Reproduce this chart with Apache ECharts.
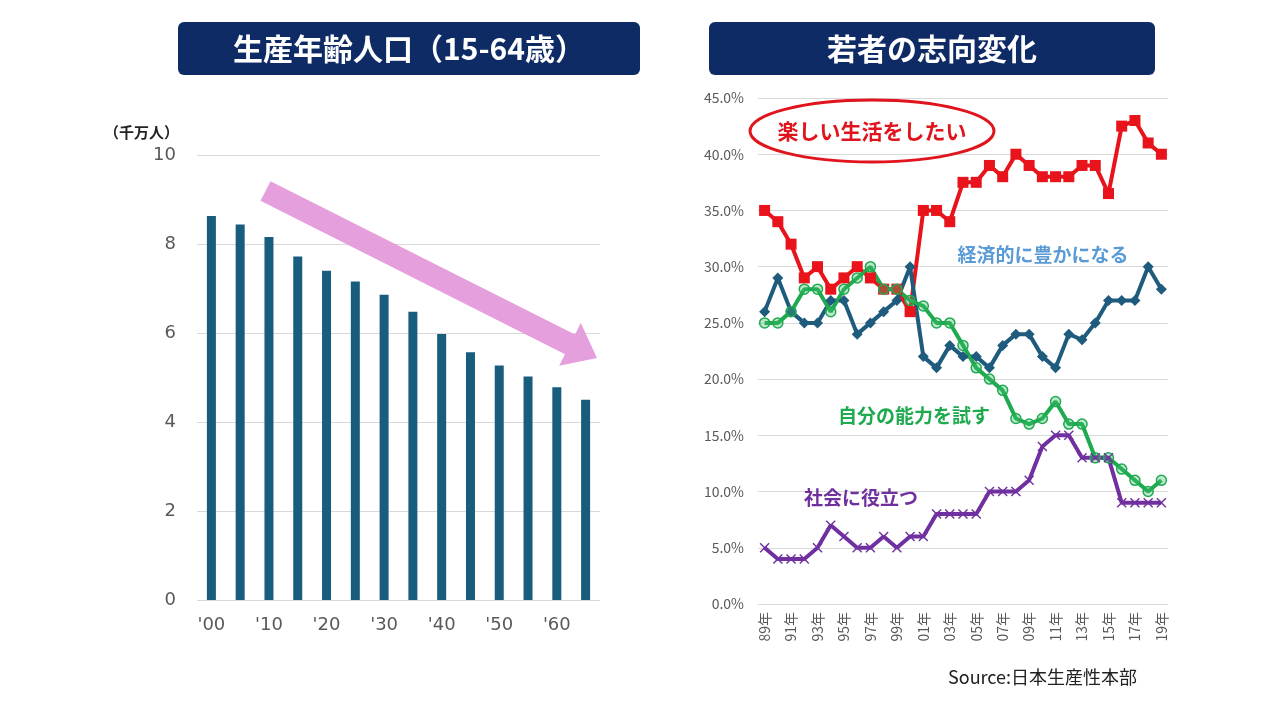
<!DOCTYPE html>
<html>
<head>
<meta charset="utf-8">
<title>生産年齢人口と若者の志向変化</title>
<script src="https://cdn.jsdelivr.net/npm/echarts@6/dist/echarts.min.js"></script>
<style>
  html, body { margin: 0; padding: 0; background: #fff; }
  #main { width: 1280px; height: 720px; }
</style>
</head>
<body>
<div id="main"></div>
<script>
// 左：生産年齢人口（千万人）
var popYears = ["'00", "'05", "'10", "'15", "'20", "'25", "'30", "'35", "'40", "'45", "'50", "'55", "'60", "'65"];
var popValues = [8.63, 8.44, 8.16, 7.72, 7.40, 7.16, 6.86, 6.48, 5.98, 5.57, 5.27, 5.02, 4.78, 4.50];

// 右：若者の志向変化（%）
var surveyYears = ["89年", "90年", "91年", "92年", "93年", "94年", "95年", "96年", "97年", "98年",
  "99年", "00年", "01年", "02年", "03年", "04年", "05年", "06年", "07年", "08年",
  "09年", "10年", "11年", "12年", "13年", "14年", "15年", "16年", "17年", "18年", "19年"];
var enjoyLife = [35, 34, 32, 29, 30, 28, 29, 30, 29, 28, 28, 26, 35, 35, 34, 37.5, 37.5, 39, 38, 40,
  39, 38, 38, 38, 39, 39, 36.5, 42.5, 43, 41, 40];
var getRich = [26, 29, 26, 25, 25, 27, 27, 24, 25, 26, 27, 30, 22, 21, 23, 22, 22, 21, 23, 24,
  24, 22, 21, 24, 23.5, 25, 27, 27, 27, 30, 28];
var testAbility = [25, 25, 26, 28, 28, 26, 28, 29, 30, 28, 28, 27, 26.5, 25, 25, 23, 21, 20, 19, 16.5,
  16, 16.5, 18, 16, 16, 13, 13, 12, 11, 10, 11];
var helpSociety = [5, 4, 4, 4, 5, 7, 6, 5, 5, 6, 5, 6, 6, 8, 8, 8, 8, 10, 10, 10,
  11, 14, 15, 15, 13, 13, 13, 9, 9, 9, 9];

var FONT = '"Noto Sans CJK JP", "Noto Sans", sans-serif';
var myChart = echarts.init(document.getElementById('main'));

// 見出しの帯
function titleBox(x, w, text) {
  return {
    type: 'group',
    children: [
      { type: 'rect', shape: { x: x, y: 22, width: w, height: 53, r: 6 }, style: { fill: '#0E2B65' } },
      { type: 'text', x: x + w / 2, y: 49, style: { text: text, fill: '#fff', font: 'bold 30px ' + FONT, align: 'center', verticalAlign: 'middle' } }
    ]
  };
}

function label(x, y, text, color, size) {
  return { type: 'text', x: x, y: y, z: 100, style: { text: text, fill: color, font: 'bold ' + size + 'px ' + FONT, align: 'center', verticalAlign: 'middle' } };
}

var xMark = 'path://M0,1L1,0L5,4L9,0L10,1L6,5L10,9L9,10L5,6L1,10L0,9L4,5Z';

var option = {
  animation: false,
  grid: [
    { left: 197, right: 680, top: 155, bottom: 120 },
    { left: 758, width: 410, top: 98, bottom: 116 }
  ],
  xAxis: [
    {
      gridIndex: 0, type: 'category', data: popYears,
      axisLine: { show: false }, axisTick: { show: false },
      axisLabel: { interval: 1, color: '#595959', fontSize: 18, fontFamily: 'DejaVu Sans', margin: 16 }
    },
    {
      gridIndex: 1, type: 'category', data: surveyYears,
      axisLine: { show: false }, axisTick: { show: false },
      axisLabel: { interval: 1, rotate: 90, color: '#595959', fontSize: 14, fontFamily: FONT, margin: 8 }
    }
  ],
  yAxis: [
    {
      gridIndex: 0, type: 'value', min: 0, max: 10, interval: 2,
      axisLabel: { color: '#595959', fontSize: 18, fontFamily: 'DejaVu Sans', margin: 21 },
      splitLine: { lineStyle: { color: '#D9D9D9' } }
    },
    {
      gridIndex: 1, type: 'value', min: 0, max: 45, interval: 5,
      axisLabel: { color: '#595959', fontSize: 14, fontFamily: FONT, margin: 14,
        formatter: function (v) { return v.toFixed(1) + '%'; } },
      splitLine: { lineStyle: { color: '#D9D9D9' } }
    }
  ],
  series: [
    {
      name: '生産年齢人口', type: 'bar', xAxisIndex: 0, yAxisIndex: 0,
      data: popValues, barWidth: 9, itemStyle: { color: '#185C7E' }
    },
    {
      name: '楽しい生活をしたい', type: 'line', xAxisIndex: 1, yAxisIndex: 1, data: enjoyLife,
      showAllSymbol: true, symbol: 'rect', symbolSize: 11,
      lineStyle: { color: '#E8131B', width: 4 }, itemStyle: { color: '#E8131B' }
    },
    {
      name: '経済的に豊かになる', type: 'line', xAxisIndex: 1, yAxisIndex: 1, data: getRich,
      showAllSymbol: true, symbol: 'diamond', symbolSize: 11,
      lineStyle: { color: '#1F5B7D', width: 4 }, itemStyle: { color: '#1F5B7D' }
    },
    {
      name: '自分の能力を試す', type: 'line', xAxisIndex: 1, yAxisIndex: 1, data: testAbility,
      showAllSymbol: true, symbol: 'circle', symbolSize: 10,
      lineStyle: { color: '#1FAA4F', width: 4 },
      itemStyle: { color: 'rgba(60,190,110,0.35)', borderColor: '#1FAA4F', borderWidth: 1.5 }
    },
    {
      name: '社会に役立つ', type: 'line', xAxisIndex: 1, yAxisIndex: 1, data: helpSociety,
      showAllSymbol: true, symbol: xMark, symbolSize: 10,
      lineStyle: { color: '#7030A0', width: 4 }, itemStyle: { color: '#7030A0' }
    }
  ],
  graphic: [
    titleBox(178, 462, '生産年齢人口（15-64歳）'),
    titleBox(709, 446, '若者の志向変化'),
    { type: 'text', x: 104, y: 132, style: { text: '（千万人）', fill: '#222', font: 'bold 15px ' + FONT, verticalAlign: 'middle' } },
    // 減少を示す矢印
    {
      type: 'polygon', z: 50,
      shape: { points: [[270.5, 181.2], [575, 334.6], [580.8, 323], [597, 358], [559.2, 365.8], [565, 354.2], [260.5, 200.8]] },
      style: { fill: '#E49FDC' }
    },
    {
      type: 'ellipse', z: 100, shape: { cx: 872, cy: 131, rx: 122, ry: 31 },
      style: { fill: 'rgba(255,255,255,0)', stroke: '#E0141C', lineWidth: 3 }
    },
    label(872, 131, '楽しい生活をしたい', '#E0141C', 21),
    label(1043, 255, '経済的に豊かになる', '#5B9BD5', 19),
    label(914, 416, '自分の能力を試す', '#1FAA4F', 19),
    label(861, 498, '社会に役立つ', '#7030A0', 19),
    { type: 'text', x: 948, y: 677, style: { text: 'Source:日本生産性本部', fill: '#222', font: '18px ' + FONT, verticalAlign: 'middle' } }
  ]
};
myChart.setOption(option);
</script>
</body>
</html>
